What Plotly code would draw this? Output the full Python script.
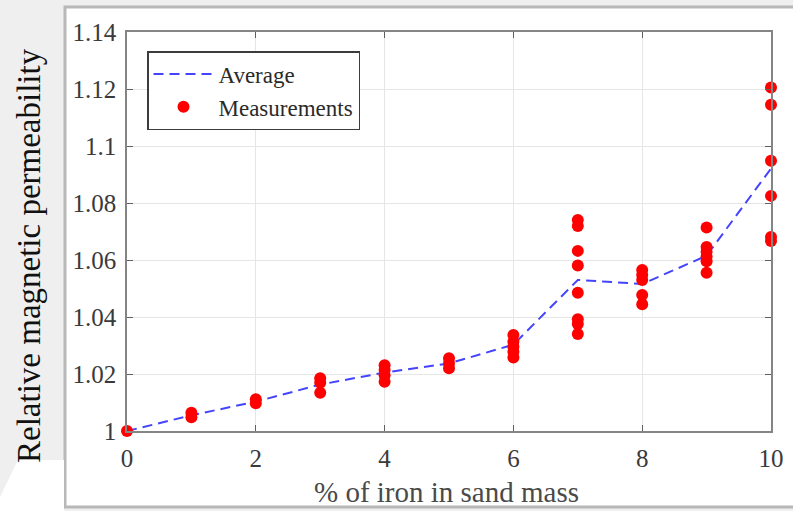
import plotly.graph_objects as go

# ---------------- data ----------------
avg_x = [0, 1, 2, 3, 4, 5, 6, 7, 8, 9, 10]
avg_y = [1.0, 1.0055, 1.0103, 1.0163, 1.0205, 1.0237, 1.0303, 1.0530, 1.0516, 1.0615, 1.0921]

meas_x = [0,
          1, 1,
          2, 2,
          3, 3, 3,
          4, 4, 4, 4,
          5, 5, 5,
          6, 6, 6, 6, 6,
          7, 7, 7, 7, 7, 7, 7, 7,
          8, 8, 8, 8, 8,
          9, 9, 9, 9, 9, 9,
          10, 10, 10, 10, 10, 10]
meas_y = [1.0,
          1.0064, 1.0048,
          1.0111, 1.0097,
          1.0185, 1.0169, 1.0134,
          1.0231, 1.0214, 1.0196, 1.0173,
          1.0255, 1.0237, 1.0220,
          1.0337, 1.0313, 1.0296, 1.0278, 1.0258,
          1.0740, 1.0719, 1.0632, 1.0581, 1.0485, 1.0392, 1.0375, 1.0340,
          1.0565, 1.0547, 1.0530, 1.0477, 1.0445,
          1.0714, 1.0646, 1.0629, 1.0611, 1.0596, 1.0555,
          1.1205, 1.1145, 1.0948, 1.0825, 1.0681, 1.0667]

x_ticks = [0, 2, 4, 6, 8, 10]
y_ticks = [1.0, 1.02, 1.04, 1.06, 1.08, 1.10, 1.12, 1.14]
y_tick_text = ["1", "1.02", "1.04", "1.06", "1.08", "1.1", "1.12", "1.14"]

# ---------------- layout constants ----------------
W, H = 793, 511
ML, MR, MT, MB = 127, 22, 32, 80
PW, PH = W - ML - MR, H - MT - MB
SERIF = "Liberation Serif"


def px(xp):
    return (xp - ML) / PW


def py(yp):
    return (H - MB - yp) / PH


fig = go.Figure()
fig.add_trace(go.Scatter(
    x=avg_x, y=avg_y, mode="lines", name="Average",
    line=dict(color="#4444ff", width=2, dash="10px,6px"),
    cliponaxis=False,
))
fig.add_trace(go.Scatter(
    x=meas_x, y=meas_y, mode="markers", name="Measurements",
    marker=dict(color="#ff0000", size=12, line=dict(width=0)),
    cliponaxis=False,
))

shapes = [
    # white panel with grey border
    dict(type="rect", xref="paper", yref="paper", layer="below",
         x0=px(65), x1=px(805), y0=py(507), y1=py(7),
         fillcolor="white", line=dict(color="#b8b8b8", width=3)),
    # white wedge bottom-left
    dict(type="path", xref="paper", yref="paper", layer="below",
         path=(f"M {px(0)},{py(497)} L {px(18)},{py(460)} L {px(64)},{py(460)} "
               f"L {px(64)},{py(511)} L {px(0)},{py(511)} Z"),
         fillcolor="white", line=dict(width=0)),
]

axis_common = dict(
    showline=True, linecolor="#858585", linewidth=1.5, mirror="ticks",
    ticks="inside", ticklen=6, tickcolor="#606060", tickwidth=1.2,
    showgrid=True, gridcolor="#e6e6e6", gridwidth=1,
    zeroline=False,
    tickfont=dict(family=SERIF, size=25, color="#3a3a3a"),
)

fig.update_layout(
    width=W, height=H,
    margin=dict(l=ML, r=MR, t=MT, b=MB, autoexpand=False),
    paper_bgcolor="#efefef",
    plot_bgcolor="white",
    showlegend=True,
    font=dict(family=SERIF),
    legend=dict(
        x=px(147), y=py(51), xanchor="left", yanchor="top",
        bgcolor="white", bordercolor="#3c3c3c", borderwidth=1.5,
        font=dict(family=SERIF, size=23, color="#2a2a2a"),
        itemwidth=60, tracegroupgap=0,
    ),
    xaxis=dict(range=[0, 10], tickvals=x_ticks, ticklabelstandoff=4, **axis_common),
    yaxis=dict(range=[1.0, 1.14], tickvals=y_ticks, ticktext=y_tick_text,
               ticklabelstandoff=4, **axis_common),
    shapes=shapes,
    annotations=[
        dict(text="% of iron in sand mass", xref="paper", yref="paper",
             x=px(446), y=py(492), xanchor="center", yanchor="middle",
             showarrow=False, font=dict(family=SERIF, size=29, color="#4a4a4a")),
        dict(text="Relative magnetic permeability", xref="paper", yref="paper",
             x=px(29), y=py(256), xanchor="center", yanchor="middle",
             textangle=-90, showarrow=False,
             font=dict(family=SERIF, size=33, color="#111111")),
    ],
)

fig.write_html("out.html")
